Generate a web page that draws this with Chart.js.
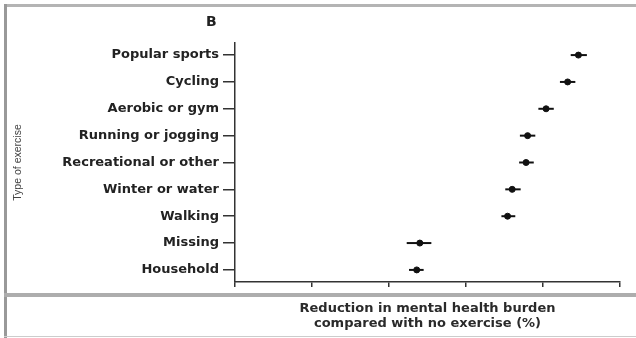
<!DOCTYPE html>
<html>
<head>
<meta charset="utf-8">
<script src="https://cdn.jsdelivr.net/npm/chart.js@4/dist/chart.umd.min.js"></script>
<style>
  body { margin: 0; background: #fff; }
  #wrap { position: relative; width: 636px; height: 338px; overflow: hidden; }
  #myChart { position: absolute; left: 0; top: 0; }
  .rule { position: absolute; background: #aaa; }
  #panel { position: absolute; left: 206px; top: 13px; font: bold 14px "DejaVu Sans", sans-serif; color: #222; }
</style>
</head>
<body>
<div id="wrap">
  <canvas id="myChart" width="636" height="338"></canvas>
  <div class="rule" style="left:4px;top:4px;width:632px;height:3px;background:#b4b4b4"></div>
  <div class="rule" style="left:4px;top:4px;width:3px;height:334px;background:#999"></div>
  <div class="rule" style="left:4px;top:293px;width:632px;height:4px;background:#adadad"></div>
  <div class="rule" style="left:4px;top:336px;width:632px;height:1px;background:#ccc"></div>
  <div id="panel">B</div>
</div>
<script>
// exercise types, top to bottom
var tipos = ["Popular sports", "Cycling", "Aerobic or gym", "Running or jogging",
  "Recreational or other", "Winter or water", "Walking", "Missing", "Household"];
// reduction in mental health burden (%) with 95% CI
var reduccion = [22.3, 21.6, 20.2, 19.0, 18.9, 18.0, 17.7, 12.0, 11.8];
var ciBajo = [21.8, 21.1, 19.7, 18.5, 18.45, 17.55, 17.3, 11.15, 11.3];
var ciAlto = [22.85, 22.1, 20.7, 19.5, 19.4, 18.55, 18.2, 12.75, 12.25];
var xTicks = [0, 5, 10, 15, 20, 25];

// horizontal CI whiskers drawn on the chart scales
var whiskers = {
  id: 'whiskers',
  beforeDatasetsDraw: function (chart) {
    var ctx = chart.ctx, x = chart.scales.x, y = chart.scales.y;
    ctx.save();
    ctx.strokeStyle = "#111";
    ctx.lineWidth = 2;
    for (var i = 0; i < tipos.length; i++) {
      var py = y.getPixelForValue(i);
      ctx.beginPath();
      ctx.moveTo(x.getPixelForValue(ciBajo[i]), py);
      ctx.lineTo(x.getPixelForValue(ciAlto[i]), py);
      ctx.stroke();
    }
    ctx.restore();
  }
};

new Chart(document.getElementById("myChart"), {
  type: 'scatter',
  data: {
    datasets: [{
      data: reduccion.map(function (v, i) { return { x: v, y: i }; }),
      backgroundColor: "#111",
      borderColor: "#111",
      pointRadius: 3,
      pointHoverRadius: 3
    }]
  },
  options: {
    responsive: false,
    animation: false,
    layout: { padding: { left: 8, right: 16, top: 43, bottom: 4 } },
    plugins: { legend: { display: false }, tooltip: { enabled: false } },
    scales: {
      x: {
        min: 0, max: 25,
        afterBuildTicks: function (s) { s.ticks = xTicks.map(function (v) { return { value: v }; }); },
        afterFit: function (s) { s.height = 338 - 4 - 282; },
        ticks: { display: false },
        grid: { display: true, drawOnChartArea: false, drawTicks: true, tickLength: 5, color: "#333", lineWidth: 1.5 },
        border: { display: true, color: "#333", width: 1.5 },
        title: {
          display: true,
          text: ["Reduction in mental health burden", "compared with no exercise (%)"],
          color: "#2a2a2a",
          font: { family: "DejaVu Sans", weight: "bold", size: 13, lineHeight: 1.15 },
          padding: { top: 0, bottom: 3 }
        }
      },
      y: {
        min: -0.45, max: 8.45,
        reverse: true,
        afterBuildTicks: function (s) { s.ticks = tipos.map(function (t, i) { return { value: i }; }); },
        afterFit: function (s) { s.width = 235 - 8; },
        ticks: {
          callback: function (v) { return tipos[v]; },
          color: "#222",
          padding: 4,
          font: { family: "DejaVu Sans", weight: "bold", size: 13 }
        },
        grid: { display: true, drawOnChartArea: false, drawTicks: true, tickLength: 12, color: "#333", lineWidth: 1.5 },
        border: { display: true, color: "#333", width: 1.5 },
        title: {
          display: true,
          text: "Type of exercise",
          color: "#444",
          font: { family: "Liberation Sans", size: 10.5 },
          padding: { top: 4, bottom: 0 }
        }
      }
    }
  },
  plugins: [whiskers]
});
</script>
</body>
</html>
